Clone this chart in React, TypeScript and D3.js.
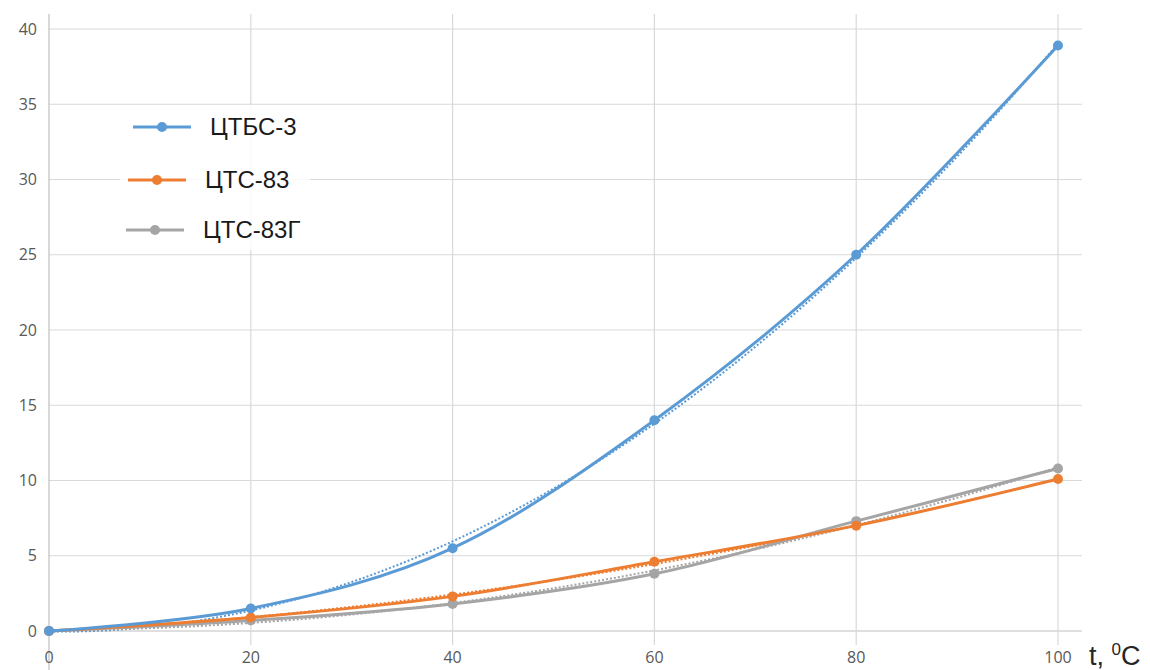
import React, { useEffect, useRef } from 'react';
import * as d3 from 'd3';

const temps = [0, 20, 40, 60, 80, 100];
const ctbs3 = [0, 1.5, 5.5, 14, 25, 38.9];
const cts83 = [0, 0.9, 2.3, 4.6, 7.0, 10.1];
const cts83g = [0, 0.7, 1.8, 3.8, 7.3, 10.8];
const seriesNames = ['ЦТБС-3', 'ЦТС-83', 'ЦТС-83Г'];
const seriesColors = ['#5B9BD5', '#ED7D31', '#A5A5A5'];
const xTicks = [0, 20, 40, 60, 80, 100];
const yTicks = [0, 5, 10, 15, 20, 25, 30, 35, 40];

// least squares fit of a 2nd order polynomial, used for the dotted trendlines
const quadFit = (xs: number[], ys: number[]) => {
  const s = (f: (x: number, y: number) => number) => d3.sum(xs, (x, i) => f(x, ys[i]));
  const n = xs.length;
  const sx = s(x => x), sx2 = s(x => x * x), sx3 = s(x => x ** 3), sx4 = s(x => x ** 4);
  const sy = s((x, y) => y), sxy = s((x, y) => x * y), sx2y = s((x, y) => x * x * y);
  const A = [[n, sx, sx2], [sx, sx2, sx3], [sx2, sx3, sx4]];
  const b = [sy, sxy, sx2y];
  const det = (m: number[][]) =>
    m[0][0] * (m[1][1] * m[2][2] - m[1][2] * m[2][1]) -
    m[0][1] * (m[1][0] * m[2][2] - m[1][2] * m[2][0]) +
    m[0][2] * (m[1][0] * m[2][1] - m[1][1] * m[2][0]);
  const D = det(A);
  const coef = [0, 1, 2].map(c => det(A.map((row, r) => row.map((v, k) => (k === c ? b[r] : v)))) / D);
  return (x: number) => coef[0] + coef[1] * x + coef[2] * x * x;
};

const Chart = () => {
  const ref = useRef<SVGSVGElement>(null);

  useEffect(() => {
    const svg = d3.select(ref.current);
    svg.selectAll('*').remove();

    const x = d3.scaleLinear().domain([0, 100]).range([49, 1058]);
    const y = d3.scaleLinear().domain([0, 40]).range([631, 29]);
    const plotRight = 1082;
    const plotTop = 14;

    const grid = svg.append('g');
    yTicks.forEach(t => {
      grid.append('line')
        .attr('x1', x(0)).attr('x2', plotRight)
        .attr('y1', y(t)).attr('y2', y(t))
        .attr('stroke', t === 0 ? '#bfbfbf' : '#d9d9d9')
        .attr('stroke-width', 1.2);
    });
    xTicks.forEach(t => {
      grid.append('line')
        .attr('x1', x(t)).attr('x2', x(t))
        .attr('y1', plotTop).attr('y2', t === 0 ? 670 : 645)
        .attr('stroke', t === 0 ? '#bfbfbf' : '#d9d9d9')
        .attr('stroke-width', 1.2);
    });

    svg.append('g').selectAll('text')
      .data(yTicks)
      .join('text')
      .attr('x', 37)
      .attr('y', d => y(d))
      .attr('dy', '0.35em')
      .attr('text-anchor', 'end')
      .style('font-family', '"Open Sans", sans-serif')
      .style('font-size', '16px')
      .attr('fill', '#595959')
      .text(d => d);

    svg.append('g').selectAll('text')
      .data(xTicks)
      .join('text')
      .attr('x', d => x(d))
      .attr('y', 657)
      .attr('dy', '0.35em')
      .attr('text-anchor', 'middle')
      .style('font-family', '"Open Sans", sans-serif')
      .style('font-size', '16px')
      .attr('fill', '#595959')
      .text(d => d);

    const axisLabel = svg.append('text')
      .attr('x', 1089)
      .attr('y', 665)
      .style('font-family', '"Liberation Sans", Arial, sans-serif')
      .style('font-size', '27px')
      .attr('fill', '#262626');
    axisLabel.append('tspan').text('t, ');
    axisLabel.append('tspan').attr('dy', -10).style('font-size', '17px').text('0');
    axisLabel.append('tspan').attr('dy', 10).text('C');

    const allSeries = [ctbs3, cts83, cts83g];
    const line = d3.line<number>()
      .x((d, i) => x(temps[i]))
      .y(d => y(d))
      .curve(d3.curveCatmullRom.alpha(0));

    const samples = d3.range(0, 100.5, 1);
    const trend = d3.line<number>()
      .x(d => x(d))
      .y(d => y(d));

    allSeries.forEach((vals, si) => {
      const f = quadFit(temps, vals);
      svg.append('path')
        .datum(samples)
        .attr('fill', 'none')
        .attr('stroke', seriesColors[si])
        .attr('stroke-width', 2)
        .attr('stroke-dasharray', '2,2')
        .attr('d', trend.y(d => y(f(d))));
    });

    [2, 1, 0].forEach(si => {
      const vals = allSeries[si];
      svg.append('path')
        .datum(vals)
        .attr('fill', 'none')
        .attr('stroke', seriesColors[si])
        .attr('stroke-width', 3)
        .attr('d', line);
      svg.append('g').selectAll('circle')
        .data(vals)
        .join('circle')
        .attr('cx', (d, i) => x(temps[i]))
        .attr('cy', d => y(d))
        .attr('r', 5)
        .attr('fill', seriesColors[si]);
    });

    // legend
    const legend = svg.append('g');
    legend.append('rect')
      .attr('x', 120).attr('y', 105)
      .attr('width', 190).attr('height', 145)
      .attr('fill', '#fff')
      .attr('opacity', 0.85);
    const legendPos = [
      { lx: 133, y: 127, tx: 210 },
      { lx: 128, y: 180, tx: 205 },
      { lx: 126, y: 230, tx: 203 },
    ];
    seriesNames.forEach((name, i) => {
      const p = legendPos[i];
      legend.append('line')
        .attr('x1', p.lx).attr('x2', p.lx + 58)
        .attr('y1', p.y).attr('y2', p.y)
        .attr('stroke', seriesColors[i])
        .attr('stroke-width', 3);
      legend.append('circle')
        .attr('cx', p.lx + 29).attr('cy', p.y)
        .attr('r', 5)
        .attr('fill', seriesColors[i]);
      legend.append('text')
        .attr('x', p.tx).attr('y', p.y)
        .attr('dy', '0.35em')
        .style('font-family', '"Liberation Sans", Arial, sans-serif')
        .style('font-size', '24px')
        .attr('fill', '#1a1a1a')
        .text(name);
    });
  }, []);

  return (
    <svg
      ref={ref}
      width={1150}
      height={670}
      style={{ position: 'absolute', left: 0, top: 0, background: '#fff' }}
    />
  );
};

export default function App() {
  return <Chart />;
}
